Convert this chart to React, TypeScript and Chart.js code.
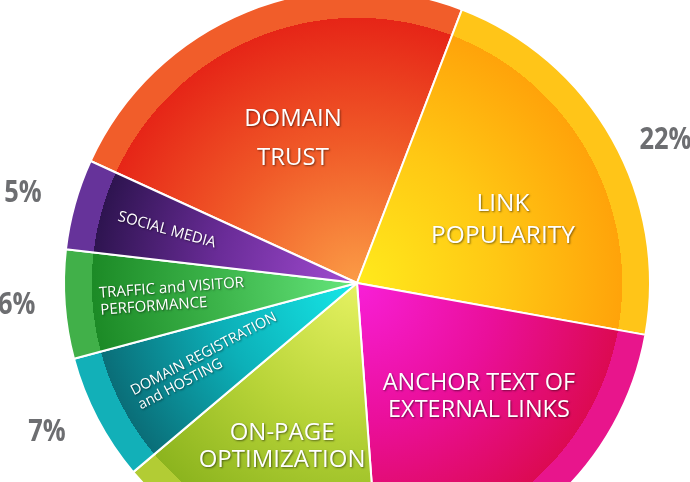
import React, { useEffect, useRef } from 'react';
import { Chart, registerables } from 'chart.js';

Chart.register(...registerables);

// ---- data ----
const categories = [
  'DOMAIN TRUST',
  'LINK POPULARITY',
  'ANCHOR TEXT OF EXTERNAL LINKS',
  'ON-PAGE OPTIMIZATION',
  'DOMAIN REGISTRATION and HOSTING',
  'TRAFFIC and VISITOR PERFORMANCE',
  'SOCIAL MEDIA',
];
const labelLines = [
  ['DOMAIN', 'TRUST'],
  ['LINK', 'POPULARITY'],
  ['ANCHOR TEXT OF', 'EXTERNAL LINKS'],
  ['ON-PAGE', 'OPTIMIZATION'],
  ['DOMAIN REGISTRATION', 'and HOSTING'],
  ['TRAFFIC and VISITOR', 'PERFORMANCE'],
  ['SOCIAL MEDIA'],
];
const values = [24, 22, 21, 15, 7, 6, 5];
const percentLabels = ['24%', '22%', '21%', '15%', '7%', '6%', '5%'];

// ---- styles ----
// [near centre, middle, outer (inner pie edge), outer ring]
const palette = [
  ['#fb9c46', '#f05a28', '#e62517', '#f15d2a'],
  ['#ffea1c', '#ffc814', '#ffa30a', '#ffc518'],
  ['#f81fd8', '#ea0f9a', '#dc0a52', '#e8158c'],
  ['#e6f262', '#b8d438', '#8cb41e', '#b2cc34'],
  ['#16e8e8', '#0cb0b8', '#0a6e78', '#12b0b8'],
  ['#66e67c', '#3cb44a', '#1c8a26', '#41b049'],
  ['#a24cd2', '#6a2c98', '#2e1450', '#66339a'],
];
const OUTER_R = 293;
const RING = 0.905;
// label layout: radius, angle offset (deg), font px, line gap, radial/rotated
const labelLayout = [
  { r: 158, da: -1.7, size: 24, gap: 39, radial: false },
  { r: 159, da: 6.1, size: 24.5, gap: 32, radial: false },
  { r: 167, da: -4.9, size: 23.5, gap: 27, radial: false },
  { r: 180, da: 1.8, size: 24, gap: 27, radial: false },
  { r: 250, da: 0, size: 14.5, gap: 16, radial: true },
  { r: 258, da: 0, size: 15, gap: 17, radial: true },
  { r: 248, da: 0, size: 15, gap: 16, radial: true },
];
// outside percentage placement: radius, angle offset (deg)
const pctLayout = [
  { r: 342, da: 0 },
  { r: 340, da: 4.5 },
  { r: 342, da: 0 },
  { r: 342, da: 0 },
  { r: 344, da: 1.9 },
  { r: 341, da: 0.5 },
  { r: 346, da: -0.5 },
];

function sliceFill(ctx: any) {
  const chart = ctx.chart;
  const area = chart.chartArea;
  const pal = palette[ctx.dataIndex] || palette[0];
  if (!area) return pal[2];
  const cx = (area.left + area.right) / 2;
  const cy = (area.top + area.bottom) / 2;
  const g = chart.ctx.createRadialGradient(cx, cy, 0, cx, cy, OUTER_R);
  g.addColorStop(0, pal[0]);
  g.addColorStop(0.48, pal[1]);
  g.addColorStop(RING, pal[2]);
  g.addColorStop(RING, pal[3]);
  g.addColorStop(1, pal[3]);
  return g;
}

const labelPlugin = {
  id: 'sliceLabels',
  afterDatasetsDraw(chart: any) {
    const ctx = chart.ctx as CanvasRenderingContext2D;
    const meta = chart.getDatasetMeta(0);
    meta.data.forEach((arc: any, i: number) => {
      const { x, y, startAngle, endAngle } = arc.getProps(['x', 'y', 'startAngle', 'endAngle'], true);
      const mid = (startAngle + endAngle) / 2;
      const L = labelLayout[i];
      const a = mid + (L.da * Math.PI) / 180;
      const px = x + Math.cos(a) * L.r;
      const py = y + Math.sin(a) * L.r;
      const lines = labelLines[i];
      ctx.save();
      ctx.fillStyle = '#ffffff';
      ctx.shadowColor = 'rgba(0,0,0,0.5)';
      ctx.shadowBlur = 2;
      ctx.shadowOffsetX = 1;
      ctx.shadowOffsetY = 1;
      ctx.font = `400 ${L.size}px "Open Sans", "Noto Sans", sans-serif`;
      ctx.textBaseline = 'middle';
      ctx.translate(px, py);
      if (L.radial) {
        ctx.rotate(mid + Math.PI);
        ctx.textAlign = 'left';
      } else {
        ctx.textAlign = 'center';
      }
      lines.forEach((t, k) => {
        ctx.fillText(t, 0, (k - (lines.length - 1) / 2) * L.gap);
      });
      ctx.restore();

      // outside percentage
      const P = pctLayout[i];
      const b = mid + (P.da * Math.PI) / 180;
      const qx = x + Math.cos(b) * P.r;
      const qy = y + Math.sin(b) * P.r;
      ctx.save();
      ctx.fillStyle = '#6d6e71';
      ctx.font = `700 31px "Open Sans", "Noto Sans", sans-serif`;
      ctx.textAlign = 'center';
      ctx.textBaseline = 'middle';
      ctx.translate(qx, qy);
      ctx.scale(0.82, 1);
      ctx.fillText(percentLabels[i], 0, 0);
      ctx.restore();
    });
  },
};

export default function App() {
  const ref = useRef<HTMLCanvasElement>(null);
  useEffect(() => {
    document.body.style.margin = '0';
    document.body.style.overflow = 'hidden';
    const chart = new Chart(ref.current as HTMLCanvasElement, {
      type: 'pie',
      data: {
        labels: categories,
        datasets: [
          {
            data: values,
            backgroundColor: sliceFill as any,
            borderColor: '#ffffff',
            borderWidth: 2,
          },
        ],
      },
      options: {
        responsive: false,
        animation: false,
        events: [],
        rotation: -65.4,
        radius: OUTER_R,
        layout: { padding: 0 },
        plugins: {
          legend: { display: false },
          tooltip: { enabled: false },
        },
      } as any,
      plugins: [labelPlugin],
    });
    return () => chart.destroy();
  }, []);
  return (
    <div
      style={{
        position: 'fixed',
        left: 0,
        top: 0,
        width: 690,
        height: 482,
        overflow: 'hidden',
        background: '#ffffff',
      }}
    >
      <canvas
        ref={ref}
        width={800}
        height={800}
        style={{ position: 'absolute', left: -43, top: -117, width: 800, height: 800 }}
      />
    </div>
  );
}
